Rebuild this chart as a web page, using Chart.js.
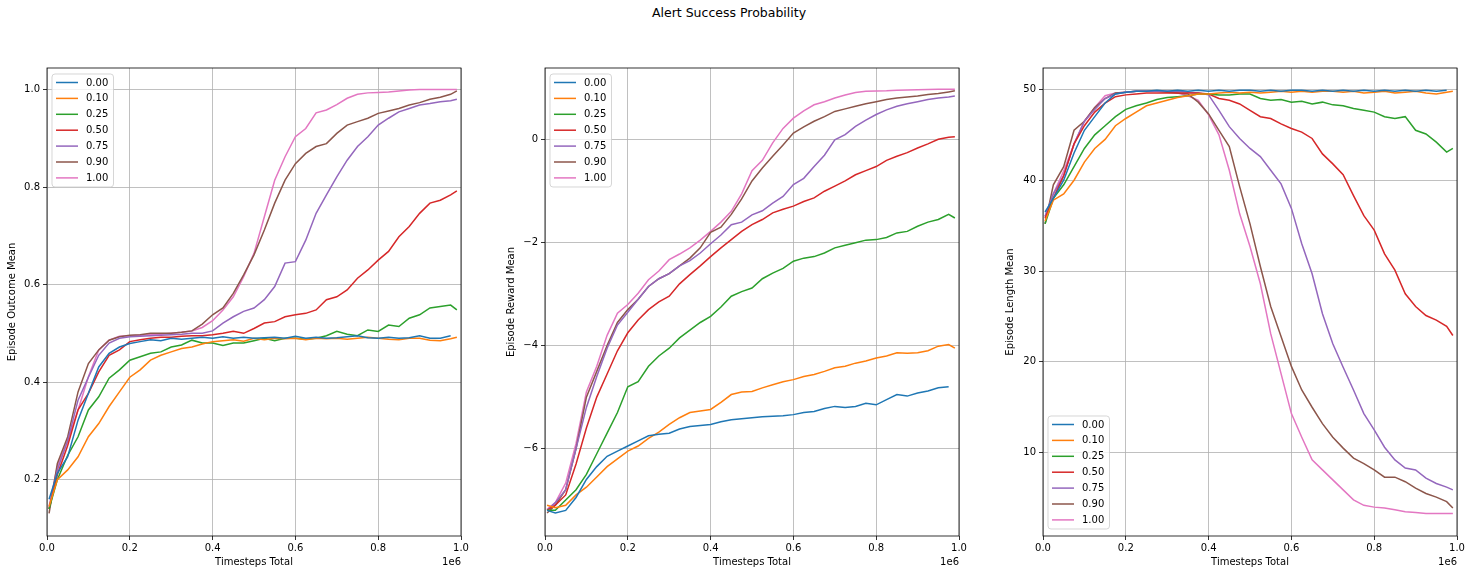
<!DOCTYPE html>
<html>
<head>
<meta charset="utf-8">
<script src="https://cdn.jsdelivr.net/npm/chart.js@4.4.1/dist/chart.umd.min.js"></script>
<style>
  body { margin: 0; background: #fff; width: 1473px; height: 576px; overflow: hidden; position: relative; }
  canvas { position: absolute; top: 0; }
  #title { position: absolute; top: 5px; left: 529px; width: 400px; text-align: center;
           font: 12.5px "DejaVu Sans", sans-serif; color: #000; }
</style>
</head>
<body>
<div id="title">Alert Success Probability</div>
<canvas id="c1" width="475" height="576" style="left:0px"></canvas>
<canvas id="c2" width="475" height="576" style="left:498px"></canvas>
<canvas id="c3" width="475" height="576" style="left:996px"></canvas>
<script>
// timesteps (in units of 1e6)
const steps = [0.005, 0.025, 0.05, 0.075, 0.1, 0.125, 0.15, 0.175, 0.2, 0.225,
  0.25, 0.275, 0.3, 0.325, 0.35, 0.375, 0.4, 0.425, 0.45, 0.475,
  0.5, 0.525, 0.55, 0.575, 0.6, 0.625, 0.65, 0.675, 0.7, 0.725,
  0.75, 0.775, 0.8, 0.825, 0.85, 0.875, 0.9, 0.925, 0.95, 0.975, 0.99];

const seriesLabels = ['0.00', '0.10', '0.25', '0.50', '0.75', '0.90', '1.00'];
const colors = ['#1f77b4', '#ff7f0e', '#2ca02c', '#d62728', '#9467bd', '#8c564b', '#e377c2'];

// Episode Outcome Mean
const outcome00 = [0.16,0.213,0.247,0.322,0.377,0.431,0.459,0.472,0.479,0.483,0.487,0.485,0.49,0.488,0.49,0.492,0.49,0.493,0.49,0.492,0.49,0.491,0.492,0.49,0.494,0.49,0.492,0.49,0.491,0.493,0.495,0.491,0.49,0.492,0.49,0.491,0.495,0.49,0.49,0.495,null];
const outcome10 = [0.145,0.20,0.22,0.247,0.288,0.315,0.35,0.38,0.41,0.425,0.445,0.455,0.462,0.469,0.472,0.478,0.483,0.485,0.487,0.484,0.49,0.487,0.49,0.489,0.49,0.487,0.49,0.489,0.49,0.488,0.49,0.492,0.49,0.488,0.487,0.49,0.49,0.486,0.485,0.489,0.492];
const outcome25 = [0.14,0.20,0.25,0.288,0.343,0.37,0.408,0.425,0.445,0.452,0.459,0.462,0.472,0.476,0.486,0.48,0.48,0.475,0.48,0.48,0.485,0.49,0.485,0.49,0.49,0.488,0.49,0.495,0.504,0.498,0.495,0.507,0.504,0.517,0.514,0.531,0.538,0.552,0.555,0.558,0.548];
const outcome50 = [0.14,0.21,0.27,0.343,0.377,0.421,0.455,0.466,0.483,0.487,0.49,0.492,0.492,0.494,0.495,0.495,0.497,0.50,0.504,0.50,0.51,0.521,0.524,0.534,0.538,0.541,0.548,0.569,0.575,0.589,0.613,0.63,0.65,0.668,0.698,0.719,0.746,0.767,0.773,0.784,0.792];
const outcome75 = [0.14,0.22,0.28,0.363,0.41,0.455,0.48,0.49,0.493,0.494,0.495,0.496,0.497,0.498,0.50,0.50,0.505,0.521,0.534,0.545,0.552,0.569,0.596,0.644,0.647,0.691,0.746,0.784,0.821,0.855,0.883,0.903,0.927,0.941,0.954,0.961,0.968,0.971,0.975,0.977,0.98];
const outcome90 = [0.131,0.233,0.288,0.38,0.438,0.466,0.486,0.493,0.496,0.497,0.50,0.50,0.50,0.502,0.505,0.519,0.538,0.552,0.582,0.62,0.661,0.712,0.767,0.814,0.848,0.869,0.883,0.889,0.91,0.927,0.934,0.941,0.951,0.956,0.961,0.968,0.973,0.98,0.984,0.99,0.997];
const outcome100 = [0.145,0.227,0.281,0.343,0.411,0.466,0.486,0.494,0.495,0.496,0.497,0.498,0.50,0.502,0.505,0.512,0.526,0.548,0.575,0.616,0.664,0.739,0.814,0.862,0.903,0.92,0.952,0.958,0.969,0.982,0.99,0.993,0.994,0.995,0.997,0.999,1.0,1.0,1.0,1.0,1.0];

// Episode Reward Mean
const reward00 = [-7.2,-7.25,-7.2,-6.95,-6.6,-6.35,-6.15,-6.05,-5.95,-5.85,-5.75,-5.72,-5.7,-5.62,-5.57,-5.55,-5.53,-5.48,-5.44,-5.42,-5.4,-5.38,-5.37,-5.36,-5.34,-5.3,-5.28,-5.22,-5.18,-5.2,-5.18,-5.12,-5.15,-5.05,-4.95,-4.98,-4.92,-4.88,-4.82,-4.8,null];
const reward10 = [-7.1,-7.15,-7.1,-6.9,-6.75,-6.55,-6.35,-6.2,-6.05,-5.95,-5.8,-5.68,-5.53,-5.4,-5.3,-5.27,-5.24,-5.1,-4.95,-4.9,-4.89,-4.82,-4.76,-4.7,-4.66,-4.6,-4.56,-4.5,-4.43,-4.4,-4.34,-4.3,-4.24,-4.2,-4.14,-4.15,-4.14,-4.1,-4.01,-3.98,-4.05];
const reward25 = [-7.2,-7.2,-7.0,-6.8,-6.5,-6.1,-5.7,-5.3,-4.8,-4.7,-4.4,-4.2,-4.05,-3.85,-3.7,-3.55,-3.43,-3.25,-3.04,-2.95,-2.88,-2.7,-2.59,-2.5,-2.36,-2.3,-2.27,-2.2,-2.1,-2.05,-2.0,-1.95,-1.94,-1.9,-1.81,-1.78,-1.68,-1.6,-1.55,-1.45,-1.52];
const reward50 = [-7.2,-7.1,-6.9,-6.3,-5.6,-5.0,-4.55,-4.1,-3.75,-3.5,-3.3,-3.15,-3.04,-2.8,-2.62,-2.45,-2.27,-2.1,-1.94,-1.78,-1.65,-1.55,-1.42,-1.35,-1.29,-1.2,-1.13,-1.0,-0.9,-0.8,-0.68,-0.6,-0.52,-0.4,-0.32,-0.25,-0.16,-0.08,0.01,0.05,0.06];
const reward75 = [-7.2,-7.05,-6.8,-6.0,-5.2,-4.6,-4.05,-3.6,-3.35,-3.1,-2.85,-2.7,-2.6,-2.45,-2.35,-2.2,-2.02,-1.85,-1.65,-1.6,-1.46,-1.38,-1.23,-1.1,-0.87,-0.75,-0.52,-0.3,0.0,0.1,0.26,0.38,0.49,0.58,0.65,0.7,0.74,0.78,0.81,0.83,0.85];
const reward90 = [-7.25,-7.1,-6.8,-6.0,-5.0,-4.5,-4.0,-3.55,-3.3,-3.1,-2.85,-2.7,-2.6,-2.45,-2.3,-2.1,-1.8,-1.7,-1.45,-1.15,-0.8,-0.55,-0.32,-0.1,0.13,0.25,0.36,0.45,0.55,0.6,0.65,0.7,0.74,0.78,0.81,0.83,0.85,0.88,0.9,0.93,0.95];
const reward100 = [-7.18,-7.05,-6.67,-5.9,-4.9,-4.4,-3.8,-3.37,-3.2,-2.98,-2.72,-2.55,-2.33,-2.22,-2.1,-1.95,-1.78,-1.6,-1.39,-1.05,-0.6,-0.4,-0.06,0.22,0.42,0.56,0.68,0.74,0.81,0.87,0.92,0.94,0.945,0.95,0.96,0.965,0.97,0.975,0.98,0.98,0.98];

// Episode Length Mean
const length00 = [36.5,38,40,43,45.5,47,48.5,49.5,49.7,49.8,49.8,49.9,49.8,49.9,49.8,49.9,49.8,49.9,49.8,49.9,49.9,49.8,49.9,49.8,49.9,49.9,49.8,49.9,49.8,49.9,49.8,49.9,49.8,49.9,49.8,49.9,49.8,49.9,49.8,49.9,null];
const length10 = [35.5,37.8,38.5,40,42,43.5,44.5,46,46.8,47.5,48.2,48.5,48.8,49.1,49.3,49.5,49.5,49.6,49.7,49.6,49.7,49.6,49.7,49.8,49.7,49.8,49.7,49.8,49.8,49.7,49.8,49.6,49.7,49.8,49.6,49.7,49.8,49.6,49.5,49.7,49.8];
const length25 = [35.2,38,39.5,41.5,43.5,45,46,47,47.8,48.2,48.5,48.9,49.1,49.2,49.3,49.5,49.5,49.4,49.4,49.5,49.5,49.0,48.8,48.9,48.6,48.7,48.4,48.6,48.3,48.2,47.9,47.7,47.5,47.0,46.8,47.0,45.5,45.1,44.2,43.1,43.5];
const length50 = [35.8,38,40.5,44,46,47.5,48.5,49.2,49.4,49.5,49.6,49.6,49.6,49.6,49.6,49.6,49.5,49.0,48.8,48.4,47.7,47.0,46.8,46.2,45.7,45.3,44.6,42.9,41.8,40.6,38.3,36.1,34.5,31.9,30.1,27.5,26.1,25.1,24.6,23.9,22.9];
const length75 = [36,38.5,40.5,44,46.5,47.8,49,49.5,49.7,49.8,49.8,49.8,49.8,49.8,49.7,49.6,49.4,47.7,45.9,44.6,43.5,42.6,41.1,39.6,36.9,33.0,29.7,25.3,22.0,19.4,16.9,14.3,12.5,10.6,9.2,8.3,8.1,7.2,6.6,6.2,5.9];
const length90 = [35.2,39.5,41.5,45.5,46.5,48,49,49.6,49.7,49.8,49.8,49.8,49.7,49.6,49.5,48.6,47.3,45.5,43.7,39.3,35.2,30.5,26.1,22.8,19.5,16.9,15.0,13.2,11.7,10.5,9.4,8.8,8.1,7.3,7.3,6.8,6.1,5.5,5.1,4.6,3.9];
const length100 = [36,38.5,41,44,46.5,48,49.3,49.6,49.7,49.8,49.8,49.8,49.8,49.6,49.3,48.8,47.2,45.0,41.1,36.3,32.7,28.6,23.1,18.7,14.3,11.7,9.2,8.1,7.0,5.9,4.8,4.2,4.0,3.9,3.7,3.5,3.4,3.3,3.3,3.3,3.3];

const xTicks = [0, 0.2, 0.4, 0.6, 0.8, 1.0];
const outcomeTicks = [0.2, 0.4, 0.6, 0.8, 1.0];
const rewardTicks = [-6, -4, -2, 0];
const lengthTicks = [10, 20, 30, 40, 50];

const FONT = '"DejaVu Sans", sans-serif';

// frame, axis titles, 1e6 offset label and legend, matplotlib style
const decor = {
  id: 'decor',
  afterDraw(chart, args, opts) {
    const ctx = chart.ctx;
    const a = chart.chartArea;
    ctx.save();
    ctx.strokeStyle = '#000';
    ctx.lineWidth = 0.8;
    ctx.strokeRect(a.left, a.top, a.right - a.left, a.bottom - a.top);

    ctx.fillStyle = '#000';
    ctx.font = '10px ' + FONT;
    ctx.textBaseline = 'middle';
    ctx.textAlign = 'center';
    ctx.fillText('Timesteps Total', (a.left + a.right) / 2, 562);
    ctx.textAlign = 'right';
    ctx.fillText('1e6', a.right, 562);

    ctx.save();
    ctx.translate(opts.yTitleX, (a.top + a.bottom) / 2);
    ctx.rotate(-Math.PI / 2);
    ctx.textAlign = 'center';
    ctx.fillText(opts.yTitle, 0, 0);
    ctx.restore();

    // legend
    const lx = a.left + 5, ly = opts.legendTop, lw = 61.5, lh = 113;
    ctx.beginPath();
    ctx.roundRect(lx, ly, lw, lh, 3);
    ctx.fillStyle = 'rgba(255,255,255,0.8)';
    ctx.fill();
    ctx.strokeStyle = 'rgba(204,204,204,0.8)';
    ctx.lineWidth = 1;
    ctx.stroke();
    ctx.textAlign = 'left';
    seriesLabels.forEach((lab, i) => {
      const y = ly + 8.5 + i * 15.9;
      ctx.strokeStyle = colors[i];
      ctx.lineWidth = 1.5;
      ctx.beginPath();
      ctx.moveTo(lx + 4, y);
      ctx.lineTo(lx + 26, y);
      ctx.stroke();
      ctx.fillStyle = '#000';
      ctx.fillText(lab, lx + 34, y + 0.5);
    });
    ctx.restore();
  }
};

function makeChart(id, seriesList, yMin, yMax, yTicks, yTitle, yTitleX, legendTop) {
  const datasets = seriesList.map((vals, i) => ({
    label: seriesLabels[i],
    data: steps.map((x, j) => ({ x: x, y: vals[j] })),
    borderColor: colors[i],
    backgroundColor: colors[i],
    borderWidth: 1.5,
    pointRadius: 0,
    tension: 0,
    spanGaps: false
  }));

  return new Chart(document.getElementById(id), {
    type: 'line',
    data: { datasets: datasets },
    plugins: [decor],
    options: {
      responsive: false,
      animation: false,
      devicePixelRatio: 1,
      layout: { padding: { top: 68, right: 14, left: 0, bottom: 0 } },
      plugins: {
        legend: { display: false },
        tooltip: { enabled: false },
        decor: { yTitle: yTitle, yTitleX: yTitleX, legendTop: legendTop }
      },
      scales: {
        x: {
          type: 'linear',
          min: 0,
          max: 1,
          afterFit: s => { s.height = 40; },
          afterBuildTicks: s => { s.ticks = xTicks.map(v => ({ value: v })); },
          ticks: {
            color: '#000',
            font: { family: FONT, size: 10 },
            padding: 2,
            maxRotation: 0,
            callback: v => v.toFixed(1)
          },
          grid: { color: '#b0b0b0', lineWidth: 0.8, tickColor: '#000', tickLength: 4 },
          border: { display: false }
        },
        y: {
          type: 'linear',
          min: yMin,
          max: yMax,
          afterFit: s => { s.width = 47; },
          afterBuildTicks: s => { s.ticks = yTicks.map(v => ({ value: v })); },
          ticks: {
            color: '#000',
            font: { family: FONT, size: 10 },
            padding: 3,
            callback: v => (Math.abs(yTicks[1] - yTicks[0]) < 1 ? v.toFixed(1) : String(v)).replace('-', '\u2212')
          },
          grid: { color: '#b0b0b0', lineWidth: 0.8, tickColor: '#000', tickLength: 4 },
          border: { display: false }
        }
      }
    }
  });
}

makeChart('c1', [outcome00, outcome10, outcome25, outcome50, outcome75, outcome90, outcome100],
  0.0845, 1.044, outcomeTicks, 'Episode Outcome Mean', 12, 74);
makeChart('c2', [reward00, reward10, reward25, reward50, reward75, reward90, reward100],
  -7.698, 1.394, rewardTicks, 'Episode Reward Mean', 13, 74);
makeChart('c3', [length00, length10, length25, length50, length75, length90, length100],
  0.82, 52.36, lengthTicks, 'Episode Length Mean', 14, 416);
</script>
</body>
</html>
